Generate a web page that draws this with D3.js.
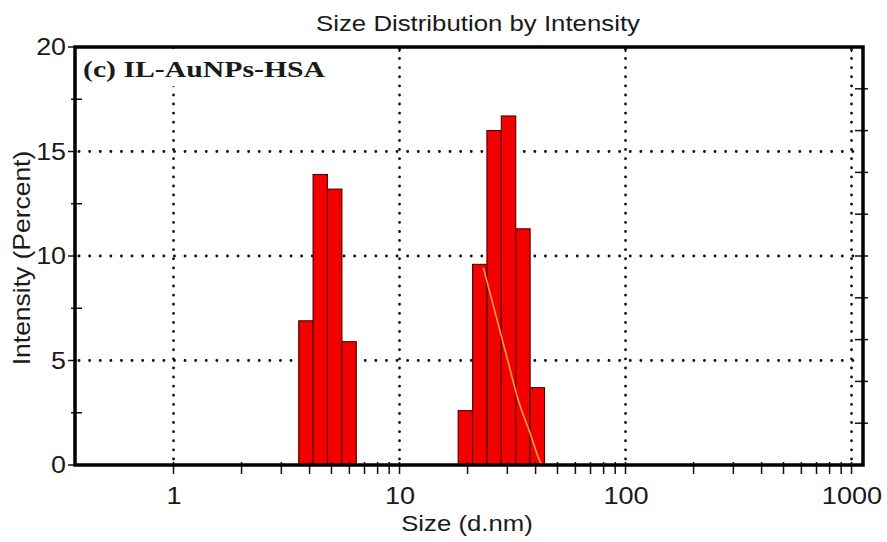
<!DOCTYPE html>
<html>
<head>
<meta charset="utf-8">
<script src="https://cdn.jsdelivr.net/npm/d3@7"></script>
<style>
body { margin: 0; background: #fff; }
svg { display: block; background: #fff; }
text { font-family: "Liberation Sans", Arial, sans-serif; fill: #1a1a1a; }
</style>
</head>
<body>
<svg width="887" height="542"></svg>
<script>
// Zetasizer size classes: lower edge of each drawn bin (d.nm) and intensity (%)
var binSizes = [3.580, 4.145, 4.801, 5.560, 18.17, 21.04, 24.36, 28.21, 32.67, 37.84];
var binIntensity = [6.9, 13.9, 13.2, 5.9, 2.6, 9.6, 16.0, 16.7, 11.3, 3.7];
var binRatio = 1.158; // width of one size class (log spaced)

// orange trace over the second peak
var traceSizes = [23.5, 26.5, 29.8, 33.5, 37.8, 41.9, 42.7];
var traceValues = [9.43, 7.29, 5.19, 3.12, 1.53, 0.16, 0];

var xMajor = [1, 10, 100, 1000];
var yMajor = [0, 5, 10, 15, 20];
var yGrid = [5, 10, 15];
var yMinorLeft = [2.5, 7.5, 12.5, 17.5];
var yRightTicks = [2, 4, 6, 8, 10, 12, 14, 16, 18];

var svg = d3.select('svg');
// plot box (note: "top" is reserved on window, so use a prefix)
var plotL = 75, plotR = 863, plotT = 47, plotB = 465;

var x = d3.scaleLog().domain([0.3665, 1124]).range([plotL, plotR]);
var y = d3.scaleLinear().domain([0, 20]).range([plotB, plotT]);

// minor ticks 2..9 in every decade from 1 up
var xMinor = x.ticks().filter(function(d) { return d >= 1 && d <= 1000; });

// ---- grid (dotted)
var grid = svg.append('g').attr('class', 'grid')
    .attr('stroke', '#111')
    .attr('stroke-linecap', 'round')
    .attr('stroke-width', 2.8);

grid.selectAll('.vgrid')
    .data(xMajor)
    .enter()
    .append('line')
    .attr('class', 'vgrid')
    .attr('x1', function(d) { return x(d); })
    .attr('x2', function(d) { return x(d); })
    .attr('y1', plotB - 6)
    .attr('y2', plotT + 2)
    .attr('stroke-dasharray', '0.1,9');

grid.selectAll('.hgrid')
    .data(yGrid)
    .enter()
    .append('line')
    .attr('class', 'hgrid')
    .attr('x1', plotL + 4)
    .attr('x2', plotR - 3)
    .attr('y1', function(d) { return y(d); })
    .attr('y2', function(d) { return y(d); })
    .attr('stroke-dasharray', '0.1,10.5');

// ---- bars
svg.append('g').attr('class', 'bars')
    .selectAll('rect')
    .data(binSizes)
    .enter()
    .append('rect')
    .attr('x', function(d) { return x(d); })
    .attr('width', function(d) { return x(d * binRatio) - x(d); })
    .attr('y', function(d, i) { return y(binIntensity[i]); })
    .attr('height', function(d, i) { return y(0) - y(binIntensity[i]); })
    .attr('fill', '#f40000')
    .attr('stroke', '#4a0000')
    .attr('stroke-width', 1.1);

// ---- orange trace
var line = d3.line()
    .x(function(d) { return x(d); })
    .y(function(d, i) { return y(traceValues[i]); })
    .curve(d3.curveMonotoneX);

svg.append('path')
    .datum(traceSizes)
    .attr('d', line)
    .attr('fill', 'none')
    .attr('stroke', '#f5a33a')
    .attr('stroke-width', 1.6);

// ---- ticks
var ticks = svg.append('g').attr('stroke', '#111').attr('stroke-width', 1.5);

ticks.selectAll('.xt')
    .data(xMinor)
    .enter()
    .append('line')
    .attr('class', 'xt')
    .attr('x1', function(d) { return x(d); })
    .attr('x2', function(d) { return x(d); })
    .attr('y1', plotB - 3)
    .attr('y2', plotB + 9);

ticks.selectAll('.xtop')
    .data(xMajor)
    .enter()
    .append('line')
    .attr('class', 'xtop')
    .attr('x1', function(d) { return x(d); })
    .attr('x2', function(d) { return x(d); })
    .attr('y1', plotT)
    .attr('y2', plotT + 5);

ticks.selectAll('.ymaj')
    .data(yMajor)
    .enter()
    .append('line')
    .attr('class', 'ymaj')
    .attr('x1', plotL - 7)
    .attr('x2', plotL + 2)
    .attr('y1', function(d) { return y(d); })
    .attr('y2', function(d) { return y(d); });

ticks.selectAll('.ymin')
    .data(yMinorLeft)
    .enter()
    .append('line')
    .attr('class', 'ymin')
    .attr('x1', plotL - 4)
    .attr('x2', plotL + 7)
    .attr('y1', function(d) { return y(d); })
    .attr('y2', function(d) { return y(d); });

ticks.selectAll('.yr')
    .data(yRightTicks)
    .enter()
    .append('line')
    .attr('class', 'yr')
    .attr('x1', plotR - 8)
    .attr('x2', plotR + 5)
    .attr('y1', function(d) { return y(d); })
    .attr('y2', function(d) { return y(d); });

// ---- sample label on a white patch (hides the grid dots behind it)
var labelBg = svg.append('rect').attr('fill', '#fff');
var label = svg.append('text')
    .attr('transform', 'translate(83,77) scale(1.24,1)')
    .style('font-family', '"Liberation Serif", "Times New Roman", serif')
    .style('font-weight', 'bold')
    .style('font-size', '24px')
    .attr('fill', '#111')
    .text('(c) IL-AuNPs-HSA');
var lb = label.node().getBoundingClientRect();
labelBg
    .attr('x', lb.left - 2)
    .attr('y', plotT + 2)
    .attr('width', lb.width + 4)
    .attr('height', lb.bottom - plotT + 2);

// ---- frame
svg.append('rect')
    .attr('x', plotL)
    .attr('y', plotT)
    .attr('width', plotR - plotL)
    .attr('height', plotB - plotT)
    .attr('fill', 'none')
    .attr('stroke', '#000')
    .attr('stroke-width', 3.5);

// ---- tick labels
var xAxis = svg.append('g')
    .attr('transform', 'translate(0,' + plotB + ')')
    .call(d3.axisBottom(x).tickValues(xMajor).tickSize(0).tickPadding(23).tickFormat(d3.format('d')));
xAxis.select('.domain').remove();
xAxis.selectAll('text')
    .style('font-size', '23px')
    .style('font-family', '"Liberation Sans", Arial, sans-serif')
    .attr('fill', '#1a1a1a')
    .attr('transform', 'scale(1.18,1)');

var yAxis = svg.append('g')
    .attr('transform', 'translate(' + plotL + ',0)')
    .call(d3.axisLeft(y).tickValues(yMajor).tickSize(0).tickPadding(8));
yAxis.select('.domain').remove();
yAxis.selectAll('text')
    .style('font-size', '24px')
    .style('font-family', '"Liberation Sans", Arial, sans-serif')
    .attr('fill', '#1a1a1a')
    .attr('transform', 'scale(1.12,1)');

// ---- titles
svg.append('text')
    .attr('transform', 'translate(478,31) scale(1.2,1)')
    .attr('text-anchor', 'middle')
    .style('font-size', '21.5px')
    .text('Size Distribution by Intensity');

svg.append('text')
    .attr('transform', 'translate(467,531) scale(1.12,1)')
    .attr('text-anchor', 'middle')
    .style('font-size', '23px')
    .text('Size (d.nm)');

svg.append('text')
    .attr('transform', 'translate(30,258) rotate(-90) scale(1.15,1)')
    .attr('text-anchor', 'middle')
    .style('font-size', '23px')
    .text('Intensity (Percent)');
</script>
</body>
</html>
